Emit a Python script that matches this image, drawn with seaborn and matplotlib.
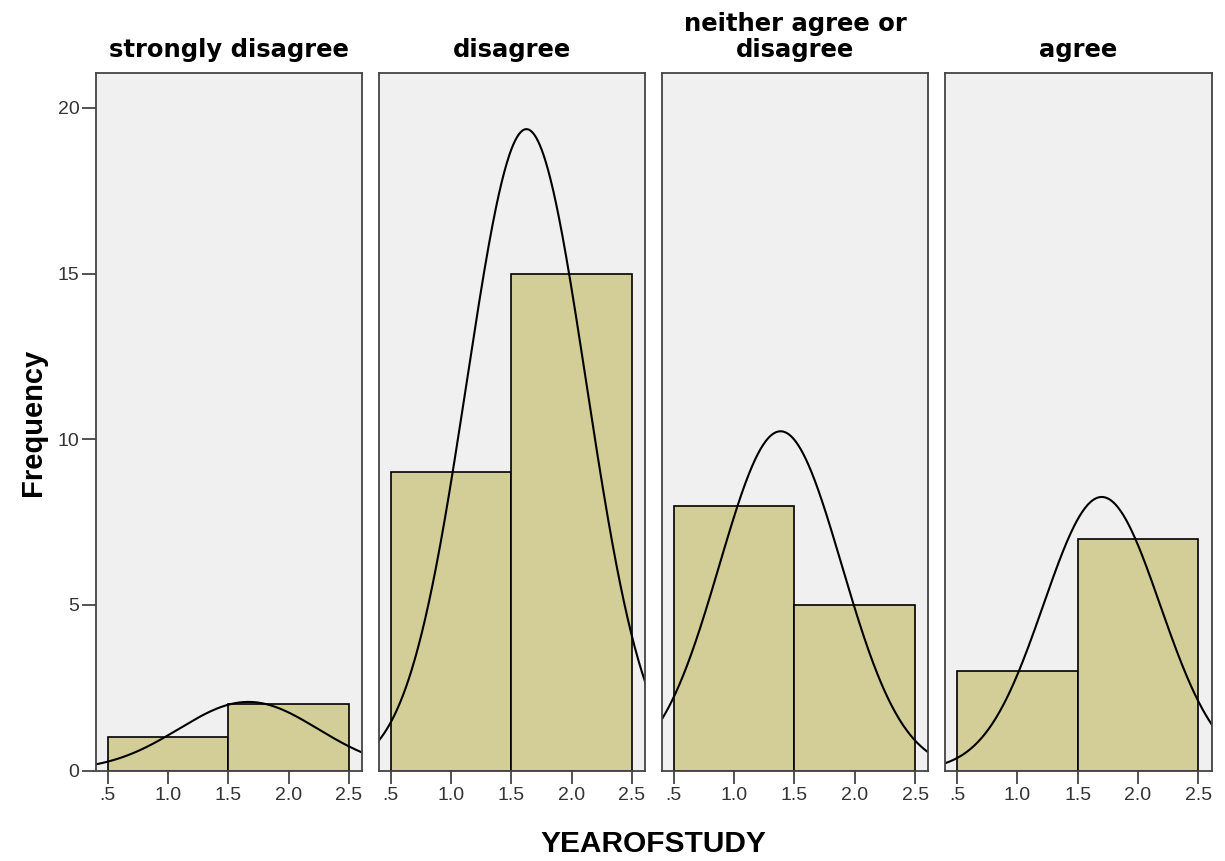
import numpy as np
import pandas as pd
import matplotlib
matplotlib.use("Agg")
import matplotlib.pyplot as plt
import seaborn as sns

# counts of YEAROFSTUDY = 1 and = 2 in each response group
groups = ["strongly disagree", "disagree", "neither agree or\ndisagree", "agree"]
year_values = [1, 2]
year1_counts = [1, 9, 8, 3]
year2_counts = [2, 15, 5, 7]

rows = []
for g, c1, c2 in zip(groups, year1_counts, year2_counts):
    rows += [(g, year_values[0])] * c1 + [(g, year_values[1])] * c2
df = pd.DataFrame(rows, columns=["group", "YEAROFSTUDY"])

sns.set_style("white")
plt.rcParams["font.family"] = ["Liberation Sans", "DejaVu Sans"]

bar_color = "#D3CD98"
bg_color = "#F0F0F0"
bins = [0.5, 1.5, 2.5]

g = sns.FacetGrid(df, col="group", col_order=groups, sharey=True,
                  height=8.61, aspect=1225 / 861 / 4)
g.map_dataframe(sns.histplot, x="YEAROFSTUDY", bins=bins, color=bar_color,
                alpha=1, edgecolor="black", linewidth=1.2)


def normal_curve(data, **kws):
    # SPSS-style normal curve scaled to the counts (bin width 1)
    ax = plt.gca()
    v = data["YEAROFSTUDY"].to_numpy(dtype=float)
    mu, sd = v.mean(), v.std(ddof=1)
    xs = np.linspace(0.4, 2.62, 300)
    ys = len(v) * 1.0 / (sd * np.sqrt(2 * np.pi)) * np.exp(-0.5 * ((xs - mu) / sd) ** 2)
    ax.plot(xs, ys, color="black", lw=1.5)


g.map_dataframe(normal_curve)
g.fig.set_size_inches(12.25, 8.61)

for ax, title in zip(g.axes.flat, groups):
    ax.set_facecolor(bg_color)
    ax.set_xlim(0.4, 2.61)
    ax.set_ylim(0, 21.05)
    ax.set_xticks([0.5, 1.0, 1.5, 2.0, 2.5])
    ax.set_xticklabels([".5", "1.0", "1.5", "2.0", "2.5"])
    ax.set_title(title, fontsize=17.5, fontweight="bold", family="DejaVu Sans",
                 color="black", pad=11.5, linespacing=1.1)
    ax.set_xlabel("")
    ax.set_ylabel("")
    for s in ax.spines.values():
        s.set_visible(True)
        s.set_color("#444444")
        s.set_linewidth(1.3)
    ax.tick_params(axis="x", which="both", bottom=True, length=9, width=1.3,
                   color="#444444", labelsize=14, labelcolor="#333333", pad=3)
    ax.tick_params(axis="y", left=False)

ax0 = g.axes.flat[0]
ax0.set_yticks([0, 5, 10, 15, 20])
ax0.tick_params(axis="y", left=True, length=10, width=1.3, color="#444444",
                labelsize=14, labelcolor="#333333", pad=1.5)
ax0.set_ylabel("Frequency", fontsize=21, fontweight="bold", color="black", labelpad=8)

g.fig.subplots_adjust(left=0.078, right=0.989, bottom=0.105, top=0.915, wspace=0.062)
g.fig.text(0.533, 0.01, "YEAROFSTUDY", ha="center", va="baseline",
           fontsize=21.5, fontweight="bold", color="black")

g.fig.savefig("out.png", dpi=100)
